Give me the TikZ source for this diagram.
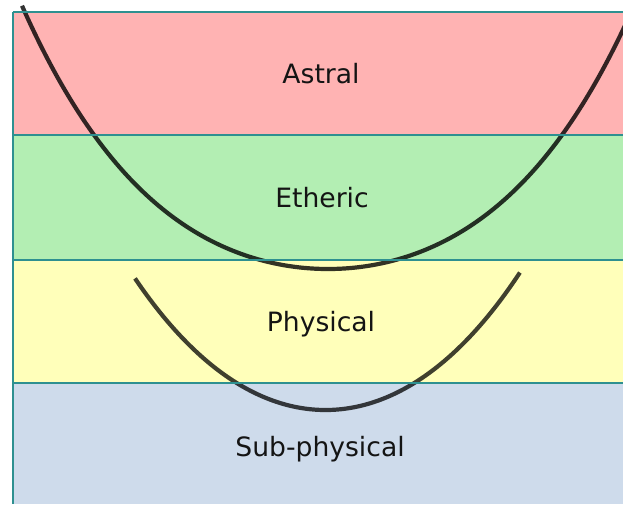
\documentclass[tikz,border=0pt]{standalone}
\usepackage{fontspec}
\setmainfont{DejaVu Sans}
\definecolor{astralc}{HTML}{FFB3B3}
\definecolor{ethericc}{HTML}{B3EEB3}
\definecolor{physc}{HTML}{FFFFBA}
\definecolor{subc}{HTML}{CEDBEB}
\definecolor{tealc}{HTML}{2E9090}
\tikzset{
  sep/.style={draw=tealc, line width=2.8pt},
  curve/.style={draw=black, line width=4.2pt, opacity=0.8},
  lbl/.style={anchor=base, font=\fontsize{26.6}{32}\selectfont, text=black!92}
}
\begin{document}
\begin{tikzpicture}[x=1pt,y=-1pt]
\useasboundingbox (0,0) rectangle (623,504);
\clip (0,0) rectangle (623,504);
% bands
\fill[astralc] (13,12) rectangle (623,135);
\fill[ethericc] (13,135) rectangle (623,260);
\fill[physc] (13,260) rectangle (623,383);
\fill[subc] (13,383) rectangle (623,504);
% curves
\draw[curve] plot[domain=-3.06:3.05, samples=120, smooth] ({328+100*\x},{269-19.36*\x*\x-0.935*\x*\x*\x*\x});
\draw[curve, opacity=0.75] plot[domain=-1.905:1.945, samples=80, smooth] ({325.5+100*\x},{410-33.72*\x*\x-0.7*\x*\x*\x*\x});
% separator lines
\coordinate (tl) at (13,12);
\coordinate (tr) at (623,12);
\coordinate (bl) at (13,504);
\coordinate (a1) at (13,135);
\coordinate (b1) at (623,135);
\coordinate (a2) at (13,260);
\coordinate (b2) at (623,260);
\coordinate (a3) at (13,383);
\coordinate (b3) at (623,383);
\draw[sep] (tl) -- (tr);
\draw[sep] (tl) -- (bl);
\draw[sep] (a1) -- (b1);
\draw[sep] (a2) -- (b2);
\draw[sep] (a3) -- (b3);
% labels
\node[lbl] (astral) at (321,83) {Astral};
\node[lbl] (etheric) at (322,207) {Etheric};
\node[lbl] (physical) at (321,331) {Physical};
\node[lbl] (sub) at (320,456) {Sub-physical};
\end{tikzpicture}
\end{document}
